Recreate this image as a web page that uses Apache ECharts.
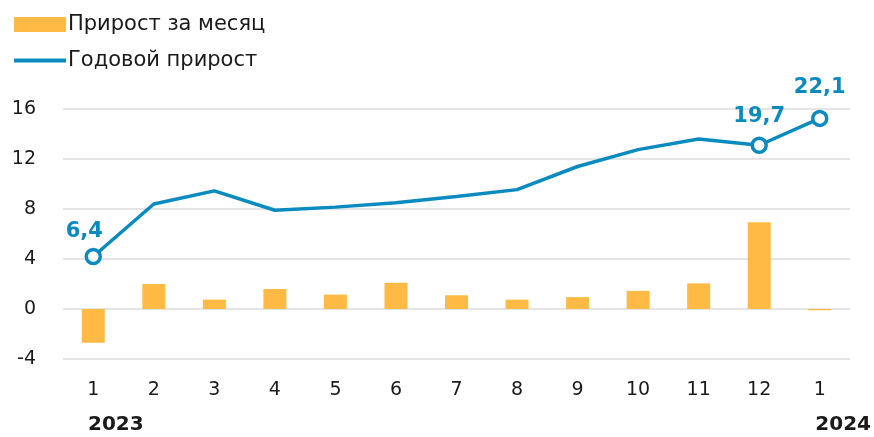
<!DOCTYPE html>
<html>
<head>
<meta charset="utf-8">
<script src="https://cdn.jsdelivr.net/npm/echarts@6/dist/echarts.min.js"></script>
<style>
html,body{margin:0;padding:0;background:#fff;}
#c{width:874px;height:437px;}
</style>
</head>
<body>
<div id="c"></div>
<script>
const categories = ['1','2','3','4','5','6','7','8','9','10','11','12','1'];
const monthlyGrowth = [-2.7, 2.0, 0.75, 1.6, 1.15, 2.1, 1.1, 0.75, 0.95, 1.45, 2.05, 6.95, -0.1];
const annualGrowth = [4.2, 8.4, 9.45, 7.9, 8.15, 8.5, 9.0, 9.55, 11.4, 12.75, 13.6, 13.1, 15.25];
const annualLabels = ['6,4', '', '', '', '', '', '', '', '', '', '', '19,7', '22,1'];
const yTicks = {min: -4, max: 16, interval: 4};
const years = ['2023', '2024'];
const seriesNames = ['Прирост за месяц', 'Годовой прирост'];

const FONT = '"DejaVu Sans", sans-serif';
const BAR = '#FFBA45';
const LINE = '#0A8BC0';

const labelOffsets = {0: [-9, 6], 11: [0, 3], 12: [0, 0]};

const lineData = annualGrowth.map((v, i) => {
  const marked = annualLabels[i] !== '';
  return {
    value: v,
    symbol: marked ? 'circle' : 'none',
    symbolSize: marked ? 14 : 0,
    label: {show: marked, offset: labelOffsets[i] || [0, 0]}
  };
});

const chart = echarts.init(document.getElementById('c'), null, {renderer: 'canvas'});
chart.setOption({
  animation: false,
  backgroundColor: '#fff',
  textStyle: {fontFamily: FONT},
  grid: {left: 63, right: 24, top: 109, bottom: 78},
  legend: [
    {
      data: [seriesNames[0]],
      left: 9, top: 9,
      itemWidth: 52, itemHeight: 15, itemGap: 0,
      icon: 'rect',
      itemStyle: {color: BAR, borderWidth: 0},
      textStyle: {fontSize: 21, color: '#1a1a1a', fontFamily: FONT, padding: [0,0,0,-3]},
      selectedMode: false
    },
    {
      data: [seriesNames[1]],
      left: 9, top: 45,
      itemWidth: 52, itemHeight: 4, itemGap: 0,
      icon: 'rect',
      itemStyle: {color: LINE, borderWidth: 0},
      lineStyle: {width: 0},
      textStyle: {fontSize: 21, color: '#1a1a1a', fontFamily: FONT, padding: [0,0,0,-3]},
      selectedMode: false
    }
  ],
  xAxis: {
    type: 'category',
    data: categories,
    boundaryGap: true,
    axisLine: {show: false},
    axisTick: {show: false},
    axisLabel: {fontSize: 19, color: '#1a1a1a', margin: 22, fontFamily: FONT}
  },
  yAxis: {
    type: 'value',
    min: yTicks.min, max: yTicks.max, interval: yTicks.interval,
    axisLine: {show: false},
    axisTick: {show: false},
    axisLabel: {fontSize: 19, color: '#1a1a1a', margin: 27, fontFamily: FONT},
    splitLine: {lineStyle: {color: '#dcdcdc', width: 1.5}}
  },
  series: [
    {
      name: seriesNames[0],
      type: 'bar',
      data: monthlyGrowth,
      barWidth: 23,
      itemStyle: {color: BAR},
      z: 2
    },
    {
      name: seriesNames[1],
      type: 'line',
      data: lineData,
      showSymbol: true,
      symbol: 'circle',
      lineStyle: {color: LINE, width: 3.5},
      itemStyle: {color: '#fff', borderColor: LINE, borderWidth: 3.5},
      label: {
        show: false,
        position: 'top',
        distance: 12,
        fontSize: 21,
        fontWeight: 'bold',
        color: LINE,
        fontFamily: FONT,
        formatter: p => annualLabels[p.dataIndex]
      },
      z: 3
    }
  ],
  graphic: [
    {type: 'text', left: 88, top: 415, style: {text: years[0], fontSize: 20, fontWeight: 'bold', fill: '#1a1a1a', fontFamily: FONT}},
    {type: 'text', right: 3, top: 415, style: {text: years[1], fontSize: 20, fontWeight: 'bold', fill: '#1a1a1a', fontFamily: FONT}}
  ]
});
</script>
</body>
</html>
